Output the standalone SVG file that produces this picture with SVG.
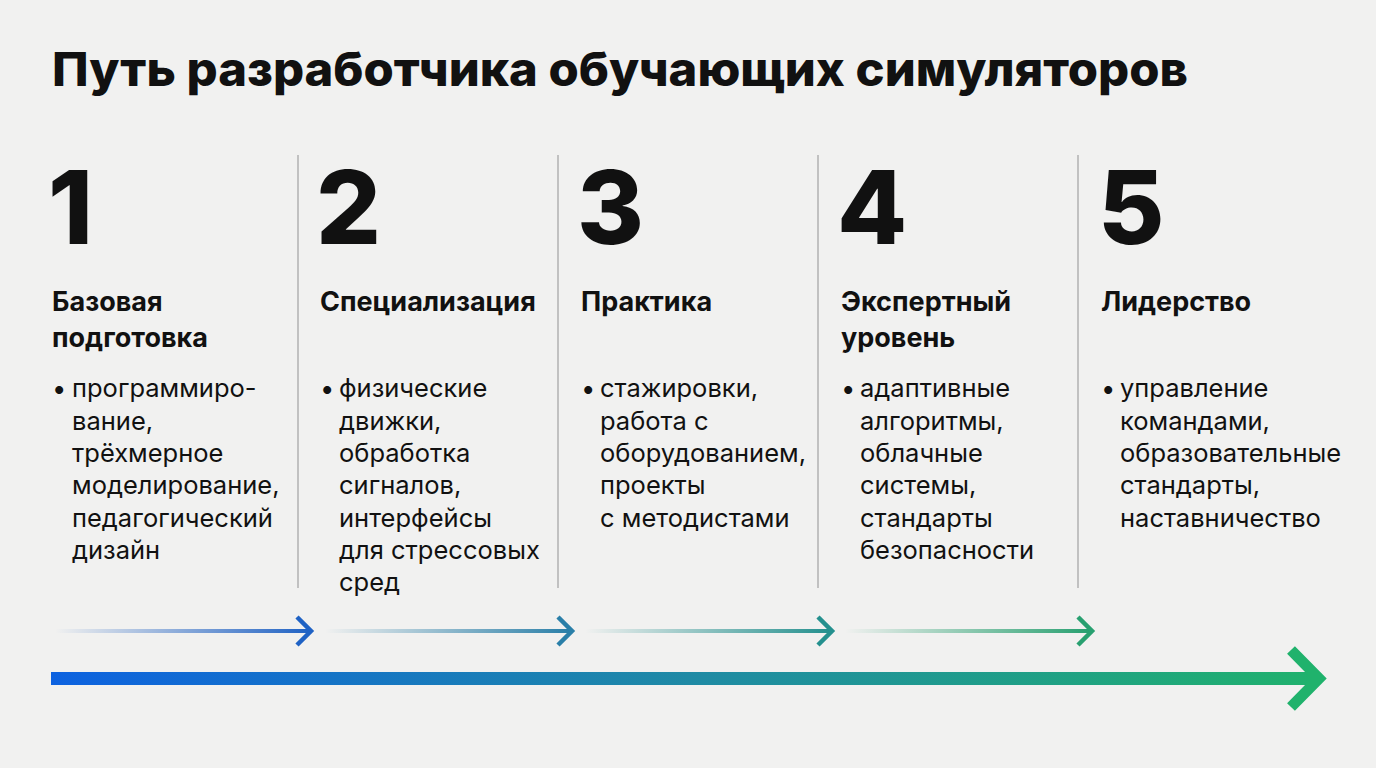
<svg xmlns="http://www.w3.org/2000/svg" width="1376" height="768" viewBox="0 0 1376 768">
<defs>
<style>
text{font-family:Inter,"Liberation Sans",sans-serif;fill:#111}
.t{font-size:47px;font-weight:800}
.n{font-size:102px;font-weight:800}
.h{font-size:27px;font-weight:700}
.b{font-size:25.5px}
.d{stroke:#a8a8a8;stroke-width:1.3}
</style>
<linearGradient id="g1" x1="0" x2="1"><stop offset="0" stop-color="#1f5fc0" stop-opacity="0"/><stop offset="1" stop-color="#1f62c4"/></linearGradient>
<linearGradient id="g2" x1="0" x2="1"><stop offset="0" stop-color="#2a7fa8" stop-opacity="0"/><stop offset="1" stop-color="#2a7fa8"/></linearGradient>
<linearGradient id="g3" x1="0" x2="1"><stop offset="0" stop-color="#24908e" stop-opacity="0"/><stop offset="1" stop-color="#24908e"/></linearGradient>
<linearGradient id="g4" x1="0" x2="1"><stop offset="0" stop-color="#28a070" stop-opacity="0"/><stop offset="1" stop-color="#28a070"/></linearGradient>
<linearGradient id="gb" gradientUnits="userSpaceOnUse" x1="51" x2="1325" y1="0" y2="0"><stop offset="0" stop-color="#0d62e0"/><stop offset="0.5" stop-color="#1f8aa5"/><stop offset="1" stop-color="#20b26c"/></linearGradient>
</defs>
<rect width="1376" height="768" fill="#f1f1f0"/>
<text class="t" x="52" y="86" textLength="1136" lengthAdjust="spacingAndGlyphs">Путь разработчика обучающих симуляторов</text>
<g id="dividers">
<line class="d" x1="298" y1="155" x2="298" y2="588"/>
<line class="d" x1="558" y1="155" x2="558" y2="588"/>
<line class="d" x1="818" y1="155" x2="818" y2="588"/>
<line class="d" x1="1078" y1="155" x2="1078" y2="588"/>
</g>
<g id="step1">
<text class="n" x="48" y="244">1</text>
<text class="h" x="52" y="311">Базовая</text><text class="h" x="52" y="347">подготовка</text>
<text class="b" x="52" y="397">•</text>
<text class="b" x="72" y="397">программиро-</text><text class="b" x="72" y="430">вание,</text><text class="b" x="72" y="462">трёхмерное</text><text class="b" x="72" y="494">моделирование,</text><text class="b" x="72" y="527">педагогический</text><text class="b" x="72" y="559">дизайн</text>
</g>
<g id="step2">
<text class="n" x="316" y="244">2</text>
<text class="h" x="320" y="311">Специализация</text>
<text class="b" x="320" y="397">•</text>
<text class="b" x="339" y="397">физические</text><text class="b" x="339" y="430">движки,</text><text class="b" x="339" y="462">обработка</text><text class="b" x="339" y="494">сигналов,</text><text class="b" x="339" y="527">интерфейсы</text><text class="b" x="339" y="559">для стрессовых</text><text class="b" x="339" y="591">сред</text>
</g>
<g id="step3">
<text class="n" x="577" y="244">3</text>
<text class="h" x="581" y="311">Практика</text>
<text class="b" x="581" y="397">•</text>
<text class="b" x="600" y="397">стажировки,</text><text class="b" x="600" y="430">работа с</text><text class="b" x="600" y="462">оборудованием,</text><text class="b" x="600" y="494">проекты</text><text class="b" x="600" y="527">с методистами</text>
</g>
<g id="step4">
<text class="n" x="837" y="244">4</text>
<text class="h" x="841" y="311">Экспертный</text><text class="h" x="841" y="347">уровень</text>
<text class="b" x="841" y="397">•</text>
<text class="b" x="860" y="397">адаптивные</text><text class="b" x="860" y="430">алгоритмы,</text><text class="b" x="860" y="462">облачные</text><text class="b" x="860" y="494">системы,</text><text class="b" x="860" y="527">стандарты</text><text class="b" x="860" y="559">безопасности</text>
</g>
<g id="step5">
<text class="n" x="1098" y="244">5</text>
<text class="h" x="1101" y="311">Лидерство</text>
<text class="b" x="1101" y="397">•</text>
<text class="b" x="1120" y="397">управление</text><text class="b" x="1120" y="430">командами,</text><text class="b" x="1120" y="462">образовательные</text><text class="b" x="1120" y="494">стандарты,</text><text class="b" x="1120" y="527">наставничество</text>
</g>
<g id="connectors" fill="none" stroke-linecap="butt">
<rect x="55" y="629" width="255" height="4" fill="url(#g1)" stroke="none"/>
<path d="M297 617 L311 631 L297 645" stroke="#1f62c4" stroke-width="4.5"/>
<rect x="325" y="629" width="245" height="4" fill="url(#g2)" stroke="none"/>
<path d="M558 617 L572 631 L558 645" stroke="#2a7fa8" stroke-width="4.5"/>
<rect x="585" y="629" width="245" height="4" fill="url(#g3)" stroke="none"/>
<path d="M818 617 L832 631 L818 645" stroke="#24908e" stroke-width="4.5"/>
<rect x="845" y="629" width="245" height="4" fill="url(#g4)" stroke="none"/>
<path d="M1078 617 L1092 631 L1078 645" stroke="#28a070" stroke-width="4.5"/>
<rect x="51" y="672" width="1268" height="13" fill="url(#gb)" stroke="none"/>
<path d="M1291 650 L1319 678.5 L1291 707" stroke="#20b26c" stroke-width="11"/>
</g>
</svg>
